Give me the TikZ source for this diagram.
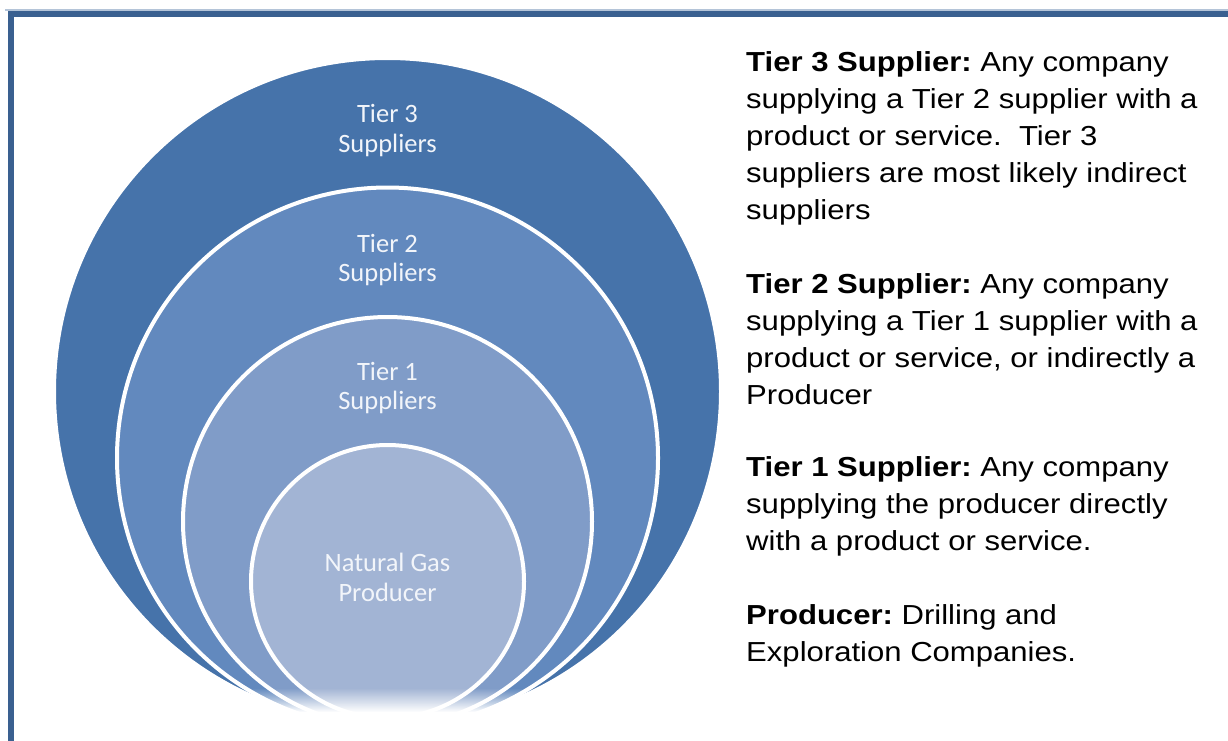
\documentclass[tikz,border=0pt]{standalone}
\usepackage{fontspec}
\setmainfont{Liberation Sans}
\newfontfamily\descfont[FakeStretch=1.13]{Liberation Sans}
\newfontfamily\ringfont{Carlito}
\usetikzlibrary{fadings}
\frenchspacing

\definecolor{frameblue}{HTML}{3A6090}
\definecolor{framelight}{HTML}{B4C4D8}
\definecolor{ringthree}{HTML}{4673AA}
\definecolor{ringtwo}{HTML}{6289BE}
\definecolor{ringone}{HTML}{809CC8}
\definecolor{ringcore}{HTML}{A2B4D4}
\definecolor{ringtext}{HTML}{F2F5FA}

\tikzset{
  ring/.style={draw=white, line width=4pt},
  ringlabel/.style={anchor=base, inner sep=0pt, text=ringtext,
    font=\ringfont\fontsize{26.5}{29.5}\selectfont},
  desc/.style={anchor=base west, inner sep=0pt,
    font=\descfont\fontsize{27.5}{37}\selectfont}
}

\begin{document}
\begin{tikzpicture}[x=1pt, y=-1pt]
  \useasboundingbox (0,0) rectangle (1228,740);

  % frame
  \draw[framelight, line width=2pt] (5,10) -- (1228,10);
  \draw[frameblue, line width=6pt] (10.5,760) -- (10.5,14) -- (1240,14);

  % nested target rings, outermost first
  \path[ring, fill=ringthree] (387.5,391.5) circle[radius=333.5];
  \path[ring, fill=ringtwo]   (387.5,458)   circle[radius=270.5];
  \path[ring, fill=ringone]   (387.5,521.5) circle[radius=204.5];
  \path[ring, fill=ringcore]  (387.5,581.5) circle[radius=136.5];

  % soft fade along the bottom of the rings
  \fill[white, path fading=north] (40,688) rectangle (740,712);
  \fill[white] (40,711.5) rectangle (740,745);

  % ring labels
  \node[ringlabel] (t3) at (387.5,122.7) {\parbox[t]{200pt}{\centering Tier 3\\Suppliers}};
  \node[ringlabel] (t2) at (387.5,252)   {\parbox[t]{200pt}{\centering Tier 2\\Suppliers}};
  \node[ringlabel] (t1) at (387.5,380)   {\parbox[t]{200pt}{\centering Tier 1\\Suppliers}};
  \node[ringlabel] (pr) at (387.5,571.7) {\parbox[t]{200pt}{\centering Natural Gas\\Producer}};

  % definitions
  \node[desc] (d3) at (746,71) {\parbox[t]{480pt}{\raggedright
    \textbf{Tier 3 Supplier:} Any company\\
    supplying a Tier 2 supplier with a\\
    product or service.\ \ Tier 3\\
    suppliers are most likely indirect\\
    suppliers}};
  \node[desc] (d2) at (746,293) {\parbox[t]{480pt}{\raggedright
    \textbf{Tier 2 Supplier:} Any company\\
    supplying a Tier 1 supplier with a\\
    product or service, or indirectly a\\
    Producer}};
  \node[desc] (d1) at (746,476) {\parbox[t]{480pt}{\raggedright
    \textbf{Tier 1 Supplier:} Any company\\
    supplying the producer directly\\
    with a product or service.}};
  \node[desc] (dp) at (746,624) {\parbox[t]{480pt}{\raggedright
    \textbf{Producer:} Drilling and\\
    Exploration Companies.}};
\end{tikzpicture}
\end{document}
